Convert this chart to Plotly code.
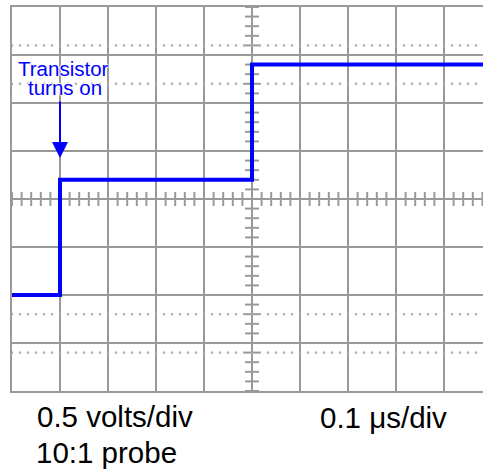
import plotly.graph_objects as go

# ---- data (time in microseconds, voltage in volts) ----
time_us = [0.0, 0.1, 0.5, 1.0]
volts = [-1.0, 0.2, 1.4, 1.4]

# graticule settings
t_per_div = 0.1      # 0.1 us/div
v_per_div = 0.5      # 0.5 V/div
dotted_levels_div = [-3.2, -2.4, 2.4, 3.2]
label_volts = "0.5 volts/div"
label_probe = "10:1 probe"
label_time = "0.1 \u03bcs/div"
label_event = ["Transistor", "turns on"]
event_time = 0.1

# ---- layout geometry (pixels) ----
W, H = 483, 472
L, T = 12, 7
PX_DIV = 48
PW = W - L
PH = 8 * PX_DIV
B = H - T - PH

x_max = PW / PX_DIV * t_per_div
y_min, y_max = -4 * v_per_div, 4 * v_per_div
x_c = 5 * t_per_div

GRID = "#9a9a9a"
FONT = "Liberation Sans, Arial, sans-serif"

fig = go.Figure()

# center-axis minor ticks
nx = int(round(x_max / (t_per_div / 5)))
tick_x = [i * t_per_div / 5 for i in range(nx + 1)]
fig.add_trace(go.Scatter(
    x=tick_x, y=[0] * len(tick_x), mode="markers", hoverinfo="skip",
    marker=dict(symbol="line-ns", size=10, line=dict(width=2, color=GRID)),
    showlegend=False))
tick_y = [y_min + i * v_per_div / 5 for i in range(8 * 5 + 1)]
fig.add_trace(go.Scatter(
    x=[x_c] * len(tick_y), y=tick_y, mode="markers", hoverinfo="skip",
    marker=dict(symbol="line-ew", size=10, line=dict(width=2, color=GRID)),
    showlegend=False))

# dotted reference lines
ndot = int(x_max / (t_per_div / 6))
dot_x = [i * t_per_div / 6 for i in range(ndot + 1)]
for lv in dotted_levels_div:
    fig.add_trace(go.Scatter(
        x=dot_x, y=[lv * v_per_div] * len(dot_x), mode="markers", hoverinfo="skip",
        marker=dict(symbol="square", size=2.2, color="#ababab", line=dict(width=0)),
        showlegend=False))

# waveform
fig.add_trace(go.Scatter(
    x=time_us, y=volts, mode="lines", line=dict(color="#0000ff", width=4, shape="hv"),
    showlegend=False))

def py_to_v(py):
    return (T + PH / 2 - py) / PX_DIV * v_per_div

def px_to_t(px):
    return (px - L) / PX_DIV * t_per_div

halo = "white 1px 0px 1px, white -1px 0px 1px, white 0px 1px 1px, white 0px -1px 1px"

annotations = [
    dict(x=event_time, y=py_to_v(158), xref="x", yref="y", text="",
         showarrow=True, ax=0, ay=-58, arrowhead=2, arrowsize=1.6, arrowwidth=2,
         arrowcolor="#0000ff", standoff=0),
    dict(x=px_to_t(63.5), y=py_to_v(68.5), xref="x", yref="y", text=label_event[0],
         showarrow=False, xanchor="center", yanchor="middle",
         font=dict(family=FONT, size=20.5, color="#0000ff", shadow=halo)),
    dict(x=px_to_t(64.5), y=py_to_v(87), xref="x", yref="y", text=label_event[1],
         showarrow=False, xanchor="center", yanchor="middle",
         font=dict(family=FONT, size=20.5, color="#0000ff", shadow=halo)),
]

def paper_y(py):
    return (T + PH - py) / PH

def paper_x(px):
    return (px - L) / PW

for txt, px, py in [(label_volts, 35, 416.5), (label_probe, 33.5, 452), (label_time, 317.5, 417.5)]:
    annotations.append(dict(x=paper_x(px), y=paper_y(py), xref="paper", yref="paper",
                            text=txt, showarrow=False, xanchor="left", yanchor="middle",
                            font=dict(family=FONT, size=29.5, color="black")))

fig.update_layout(
    width=W, height=H,
    margin=dict(l=L, r=0, t=T, b=B, pad=0),
    paper_bgcolor="white", plot_bgcolor="white",
    annotations=annotations,
    xaxis=dict(range=[0, x_max], tick0=0, dtick=t_per_div, showgrid=True,
               gridcolor=GRID, gridwidth=2, showticklabels=False, ticks="",
               zeroline=False, showline=True, linecolor=GRID, linewidth=2, mirror=True,
               fixedrange=True),
    yaxis=dict(range=[y_min, y_max], tick0=0, dtick=v_per_div, showgrid=True,
               gridcolor=GRID, gridwidth=2, showticklabels=False, ticks="",
               zeroline=False, showline=True, linecolor=GRID, linewidth=2, mirror=False,
               fixedrange=True),
)

fig.write_html("out.html", config={"displayModeBar": False},
               post_script="document.body.style.margin='0';document.body.style.overflow='hidden';")
